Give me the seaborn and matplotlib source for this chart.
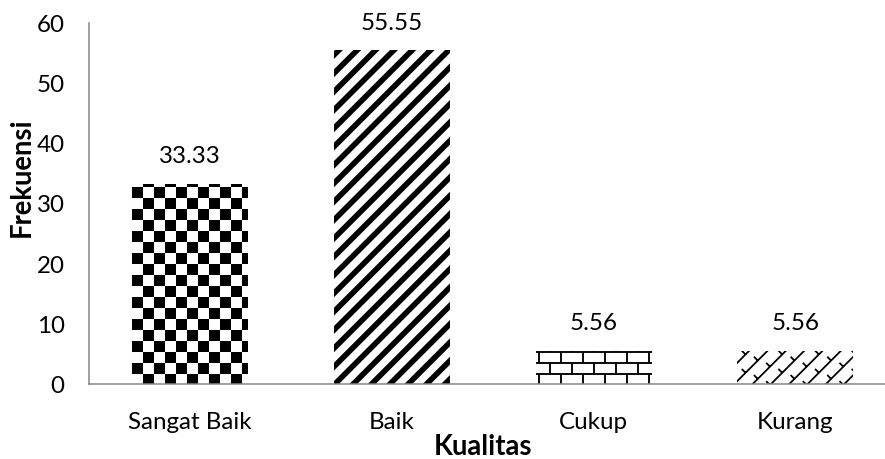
import warnings
import numpy as np
import matplotlib
matplotlib.use("Agg")
import matplotlib.pyplot as plt
import matplotlib.hatch as mhatch
from matplotlib.path import Path
import seaborn as sns

warnings.simplefilter("ignore")

# ---- data -------------------------------------------------------------
kategori = ["Sangat Baik", "Baik", "Cukup", "Kurang"]
frekuensi = [33.33, 55.55, 5.56, 5.56]
y_ticks = [0, 10, 20, 30, 40, 50, 60]
pola = ["C", "S", "B", "K"]   # checker, stripes, bricks, shingles


# ---- custom fill patterns (filled polygons in the unit hatch cell) -----
def _rect_from_segment(p0, p1, w):
    p0 = np.asarray(p0, float)
    p1 = np.asarray(p1, float)
    d = p1 - p0
    d = d / np.hypot(*d)
    n = np.array([-d[1], d[0]]) * w / 2
    return [p0 + n, p0 - n, p1 - n, p1 + n]


def _ccw(poly):
    poly = [np.asarray(p, float) for p in poly]
    a = 0.0
    for i in range(len(poly)):
        x0, y0 = poly[i]
        x1, y1 = poly[(i + 1) % len(poly)]
        a += x0 * y1 - x1 * y0
    return poly if a > 0 else poly[::-1]


def _checker():
    n = 10
    s = 1.0 / n
    polys = []
    for i in range(n):
        for j in range(n):
            if (i + j) % 2 == 0:
                x, y = i * s, j * s
                polys.append([(x, y), (x + s, y), (x + s, y + s), (x, y + s)])
    return polys


def _stripes():
    n = 6
    w = 0.072
    polys = []
    for k in range(-n - 1, n + 2):
        c = k / n
        polys.append([(c - 1, -1), (c + w - 1, -1), (c + w + 2, 2), (c + 2, 2)])
    return polys


def _bricks():
    rows, cols = 10, 5
    t = 0.017
    polys = []
    for r in range(rows + 1):
        y = r / rows
        polys.append([(-0.1, y - t / 2), (1.1, y - t / 2),
                      (1.1, y + t / 2), (-0.1, y + t / 2)])
    for r in range(rows):
        y0, y1 = r / rows, (r + 1) / rows
        for j in range(-1, cols + 1):
            x = (j + 0.5 * (r % 2)) / cols
            polys.append([(x - t / 2, y0), (x + t / 2, y0),
                          (x + t / 2, y1), (x - t / 2, y1)])
    return polys


def _shingles():
    n, m = 6, 9
    w = 0.016
    h = 0.035
    polys = []
    # long "/" strokes
    for k in range(-n - 1, n + 2):
        c = k / n
        polys.append(_rect_from_segment((c - 1, -1), (c + 2, 2), w))
    # short "\" hooks branching up-left from each stroke
    for k in range(n):
        c = k / n
        for j in range(m):
            y = (j + 0.5 * (k % 2)) / m
            p0 = np.array([y + c, y])
            p1 = p0 + np.array([-h, h])
            for dx in (-1, 0, 1):
                for dy in (-1, 0, 1):
                    off = np.array([dx, dy])
                    polys.append(_rect_from_segment(p0 + off, p1 + off, w))
    return polys


class _PolyHatch(mhatch.HatchPatternBase):
    symbol = None
    builder = None

    def __init__(self, hatch, density):
        if self.symbol in hatch:
            self.polys = [_ccw(p) for p in type(self).builder()]
        else:
            self.polys = []
        self.num_vertices = sum(len(p) + 1 for p in self.polys)

    def set_vertices_and_codes(self, vertices, codes):
        i = 0
        for p in self.polys:
            n = len(p)
            vertices[i:i + n] = p
            vertices[i + n] = p[0]
            codes[i] = Path.MOVETO
            codes[i + 1:i + n] = Path.LINETO
            codes[i + n] = Path.CLOSEPOLY
            i += n + 1


for sym, fn in zip(pola, [_checker, _stripes, _bricks, _shingles]):
    cls = type(f"Hatch_{sym}", (_PolyHatch,),
               {"symbol": sym, "builder": staticmethod(fn)})
    mhatch._hatch_types.append(cls)

# ---- style ------------------------------------------------------------
sns.set_theme(style="white")
plt.rcParams["font.family"] = ["Lato", "DejaVu Sans"]
plt.rcParams["hatch.linewidth"] = 0.01

DPI = 110
W, H = 885, 459
fig = plt.figure(figsize=((W + 0.3) / DPI, (H + 0.3) / DPI), dpi=DPI)
ax = fig.add_axes([89 / W, 75 / H, 807 / W, 360.5 / H])

sns.barplot(x=kategori, y=frekuensi, order=kategori, color="white",
            saturation=1, width=0.575, edgecolor="black", linewidth=0,
            errorbar=None, ax=ax)

for bar, h in zip(ax.patches, pola):
    bar.set_hatch(h)

fs = 15.8
for i, v in enumerate(frekuensi):
    ax.annotate(f"{v:.2f}", xy=(i, v), xytext=(0, 27 * 72 / DPI),
                textcoords="offset points", ha="center", va="center",
                fontsize=fs, color="black")

ax.set_xlim(-0.5, 3.5)
ax.set_ylim(0, 60)
ax.set_yticks(y_ticks)
ax.set_yticklabels([str(t) for t in y_ticks])
ax.tick_params(axis="both", length=0, labelsize=fs, labelcolor="black")
ax.tick_params(axis="y", pad=16)
ax.tick_params(axis="x", pad=18.3)
ax.set_xlabel("")
ax.set_ylabel("")

for side in ["top", "right"]:
    ax.spines[side].set_visible(False)
for side in ["left", "bottom"]:
    ax.spines[side].set_color("#868686")
    ax.spines[side].set_linewidth(1.0)

fig.text(22 / W, 1 - 177 / H, "Frekuensi", rotation=90, ha="center",
         va="center", fontsize=18, fontweight="bold", color="black")
fig.text(483 / W, 4.5 / H, "Kualitas", ha="center", va="baseline",
         fontsize=18, fontweight="bold", color="black")

fig.savefig("out.png", dpi=DPI, facecolor="white")
